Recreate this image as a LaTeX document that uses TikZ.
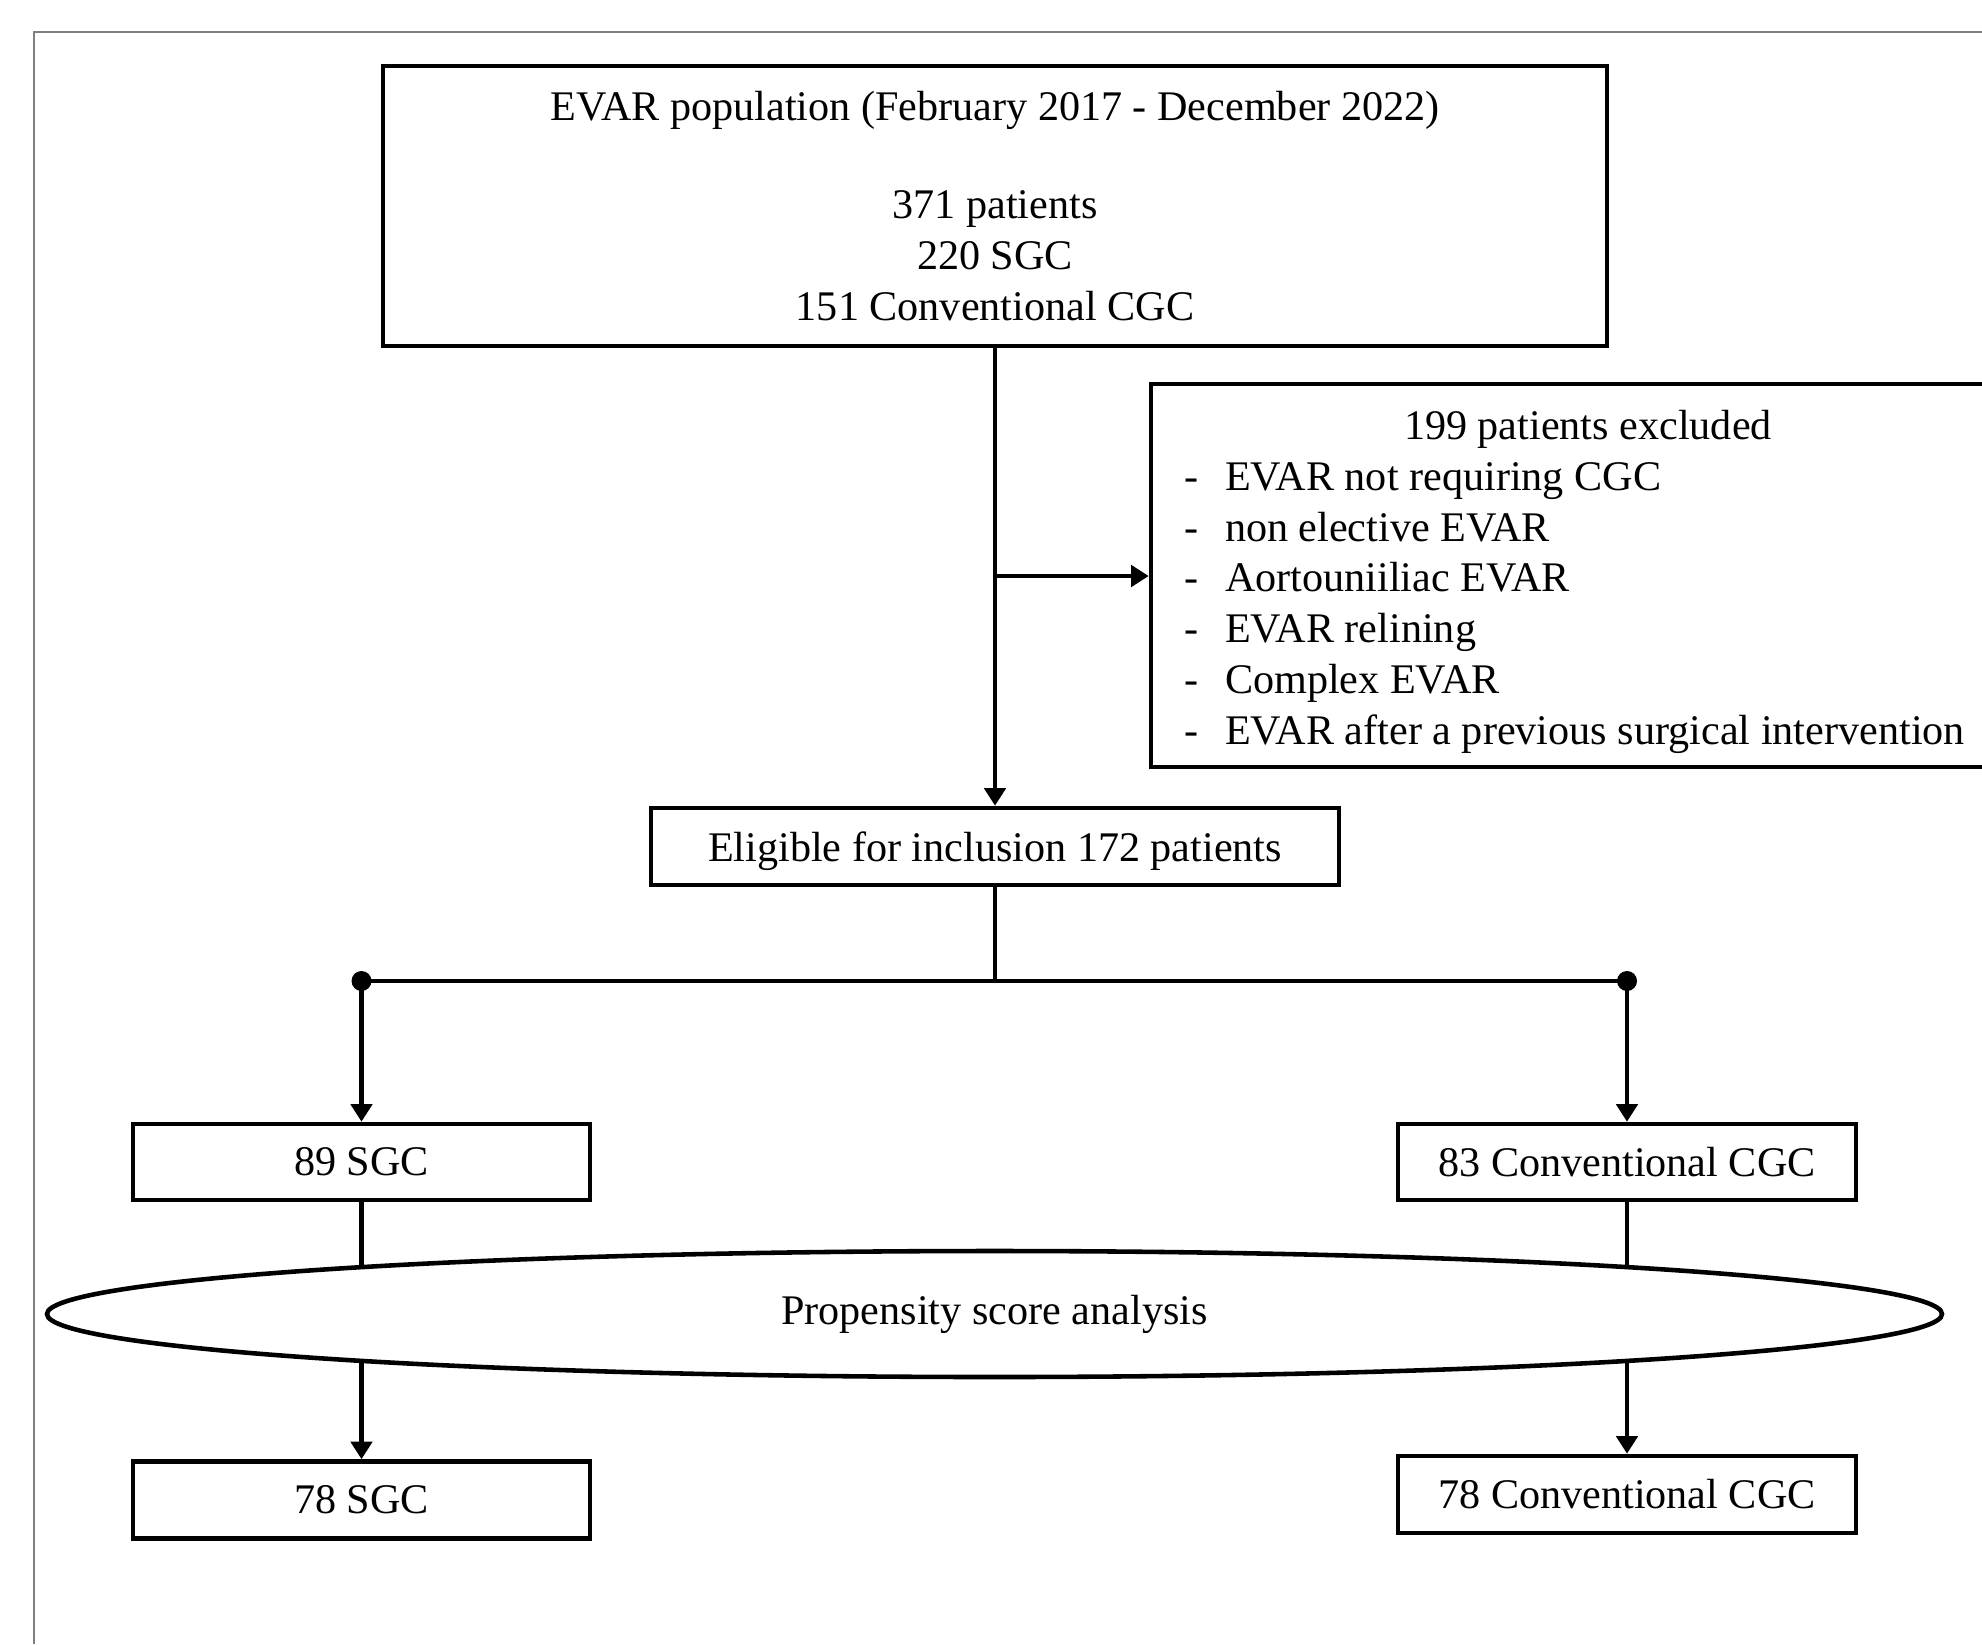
\documentclass[tikz,border=0pt]{standalone}
\usepackage{fontspec}
\setmainfont{Liberation Serif}
\usetikzlibrary{shapes.geometric,arrows.meta}

% one line of the exclusion list
\newcommand{\exitem}[1]{\makebox[8.08cm][l]{\makebox[0.41cm][l]{-}#1}}

\begin{document}
\begin{tikzpicture}[
    box/.style={draw, line width=1.3pt, inner sep=0pt, align=center, font=\fontsize{12}{14.5}\selectfont},
    link/.style={line width=1.3pt, -{Triangle[length=5pt,width=6pt]}},
    wire/.style={line width=1.3pt}
]
\useasboundingbox (0,0) rectangle (19.82,-16.44);
\clip (0,0) rectangle (19.82,-16.44);

% Page frame
\draw[gray, line width=0.6pt] (0.34,-16.44) -- (0.34,-0.32) -- (19.82,-0.32);

% Population and exclusions
\node[box, minimum width=12.24cm, minimum height=2.8cm] (pop) at (9.95,-2.06)
    {EVAR population (February 2017 - December 2022)\\[0.47cm] 371 patients\\ 220 SGC\\ 151 Conventional CGC};
\node[box, minimum height=3.83cm, inner xsep=0.33cm] (excl) at (15.88,-5.755)
    {\rule{0pt}{0.42cm}199 patients excluded\\
     \exitem{EVAR not requiring CGC}\\
     \exitem{non elective EVAR}\\
     \exitem{Aortouniiliac EVAR}\\
     \exitem{EVAR relining}\\
     \exitem{Complex EVAR}\\
     \exitem{EVAR after a previous surgical intervention}};
\node[box, minimum width=6.88cm, minimum height=0.77cm] (elig) at (9.95,-8.465) {\rule{0pt}{0.4cm}Eligible for inclusion 172 patients};

% Groups before and after matching
\node[box, minimum width=4.57cm, minimum height=0.76cm] (sgcA) at (3.615,-11.62) {89 SGC};
\node[box, minimum width=4.58cm, minimum height=0.76cm] (cgcA) at (16.27,-11.62) {83 Conventional CGC};
\node[box, minimum width=4.57cm, minimum height=0.77cm] (sgcB) at (3.615,-15.0) {78 SGC};
\node[box, minimum width=4.58cm, minimum height=0.77cm] (cgcB) at (16.27,-14.945) {78 Conventional CGC};

% Connectors
\draw[link] (pop.south) -- (elig.north);
\coordinate (split) at (9.95,-5.76);
\draw[link] (split) -- (split -| excl.west);
\coordinate (fork) at (9.95,-9.81);
\coordinate (forkL) at (3.615,-9.81);
\coordinate (forkR) at (16.27,-9.81);
\draw[wire] (elig.south) -- (fork);
\draw[wire] (forkL) -- (forkR);
\fill (forkL) circle (0.1);
\fill (forkR) circle (0.1);
\draw[link] (forkL) -- (sgcA.north);
\draw[link] (forkR) -- (cgcA.north);
\draw[link] (sgcA.south) -- (sgcB.north);
\draw[link] (cgcA.south) -- (cgcB.north);

% Matching step on top of the two lines
\node[box, ellipse, fill=white, minimum width=18.95cm, minimum height=1.26cm] (psa) at (9.945,-13.14) {Propensity score analysis};
\end{tikzpicture}
\end{document}
